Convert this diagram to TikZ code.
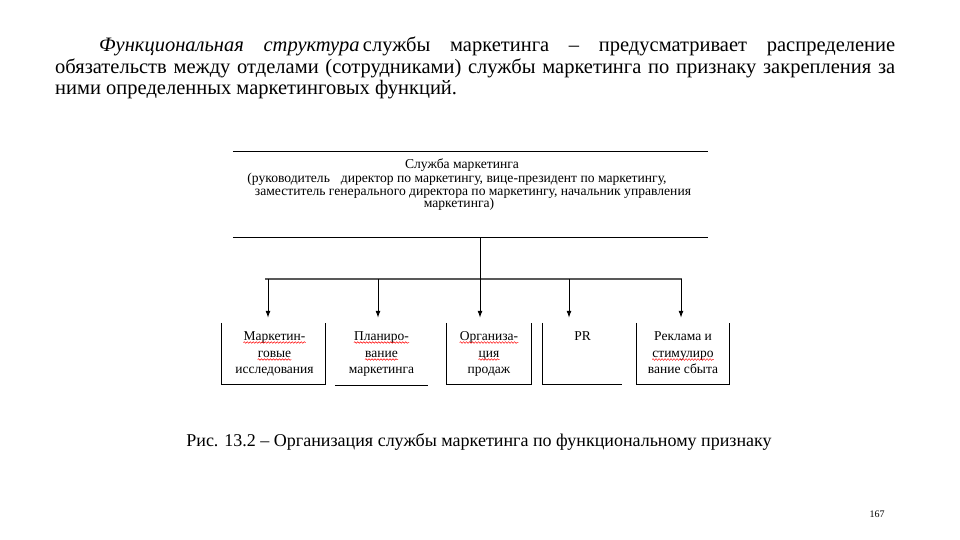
\documentclass[tikz,border=0pt]{standalone}
\usepackage{fontspec}
\setmainfont{Liberation Serif}
\usetikzlibrary{arrows.meta,decorations.pathmorphing,calc}
\newlength\wvlen
\tikzset{
  para/.style={anchor=base west, inner sep=0pt, font=\fontsize{20.5}{24}\selectfont},
  capt/.style={anchor=base, inner sep=0pt, font=\fontsize{18}{22}\selectfont},
  hd/.style={anchor=base, inner sep=0pt, font=\fontsize{13.6}{13}\selectfont},
  bt/.style={anchor=base, inner sep=0pt, font=\fontsize{13.5}{16}\selectfont},
  pgnum/.style={anchor=base, inner sep=0pt, font=\fontsize{10}{12}\selectfont},
  boxshape/.style 2 args={inner sep=0pt, minimum width=#1, minimum height=#2},
  frame/.style={line width=1.3pt, black},
  arr/.style={-{Latex[length=7pt,width=5pt]}, line width=1pt, shorten >=5pt},
  bus/.style={line width=2pt, black!65},
  wave/.style={red, line width=0.5pt, decorate, decoration={snake, amplitude=0.8pt, segment length=3pt}}
}
\begin{document}
\begin{tikzpicture}[x=1pt,y=-1pt]
\useasboundingbox (0,0) rectangle (960,540);
\fill[white] (0,0) rectangle (960,540);

% paragraph
\node[para] (p1) at (99,52) {\makebox[796pt][s]{\textit{Функциональная структура}\hbox{\,}службы маркетинга – предусматривает распределение}};
\node[para] (p2) at (55,74) {\makebox[840pt][s]{обязательств между отделами (сотрудниками) службы маркетинга по признаку закрепления за}};
\node[para] (p3) at (55,95) {ними определенных маркетинговых функций.};

% head box
\node[boxshape={475}{85}] (head) at (470.5,194.5) {};
\draw[frame] (head.north west) -- (head.north east);
\draw[frame] (head.south west) -- (head.south east);
\node[hd] (h1) at (462,169) {Служба маркетинга};
\node[hd] (h2) at (457,182.2) {(руководитель\hspace{0.8em}директор по маркетингу, вице-президент по маркетингу,};
\node[hd] (h3) at (473,195) {заместитель генерального директора по маркетингу, начальник управления};
\node[hd] (h4) at (459,207.5) {маркетинга)};

% lower boxes
\node[boxshape={103}{61}] (b1) at (273.5,353.5) {};
\node[boxshape={93}{62}] (b2) at (381.5,354) {};
\node[boxshape={84}{61}] (b3) at (489,353.5) {};
\node[boxshape={79}{61}] (b4) at (582.5,353.5) {};
\node[boxshape={92}{61}] (b5) at (683,353.5) {};
\draw[frame] (b1.north west) -- (b1.south west) -- (b1.south east) -- (b1.north east);
\draw[frame] (b2.south west) -- (b2.south east);
\draw[frame] (b3.north west) -- (b3.south west) -- (b3.south east) -- (b3.north east);
\draw[frame] (b4.north west) -- (b4.south west) -- (b4.south east);
\draw[frame] (b5.north west) -- (b5.south west) -- (b5.south east) -- (b5.north east);

% box texts
\node[bt] (t11) at (274.5,340) {Маркетин-};
\node[bt] (t12) at (274.5,357) {говые};
\node[bt] (t13) at (274.5,373.5) {исследования};
\node[bt] (t21) at (381.5,340) {Планиро-};
\node[bt] (t22) at (381.5,357) {вание};
\node[bt] (t23) at (381.5,373.5) {маркетинга};
\node[bt] (t31) at (489,340) {Организа-};
\node[bt] (t32) at (489,357) {ция};
\node[bt] (t33) at (489,373.5) {продаж};
\node[bt] (t41) at (582.5,340) {PR};
\node[bt] (t51) at (683,340) {Реклама и};
\node[bt] (t52) at (683,357) {стимулиро};
\node[bt] (t53) at (683,373.5) {вание сбыта};

% spell-check waves
\foreach \n in {t11,t12,t21,t22,t31,t32,t52}{
  \draw[wave] ($(\n.base west)+(0,2.5)$) -- ($(\n.base east)+(0,2.5)$);
}
\settowidth\wvlen{\fontsize{13.5}{16}\selectfont вание}
\draw[wave] ($(t53.base west)+(0,2.5)$) -- ++(\wvlen,0);

% connectors
\coordinate (c1) at (268,279);
\coordinate (c2) at (378,279);
\coordinate (c3) at (480,279);
\coordinate (c4) at (569,279);
\coordinate (c5) at (681,279);
\coordinate (busL) at (265,279);
\coordinate (busR) at (682,279);
\draw[bus] (busL) -- (busR);
\draw[arr] (c3 |- head.south) -- (c3 |- b3.north);
\draw[arr] (c1) -- (c1 |- b1.north);
\draw[arr] (c2) -- (c2 |- b2.north);
\draw[arr] (c4) -- (c4 |- b4.north);
\draw[arr] (c5) -- (c5 |- b5.north);

% caption and page number
\node[capt] (cap) at (479,446) {Рис. 13.2 – Организация службы маркетинга по функциональному признаку};
\node[pgnum] (pg) at (877,517) {167};
\end{tikzpicture}
\end{document}
